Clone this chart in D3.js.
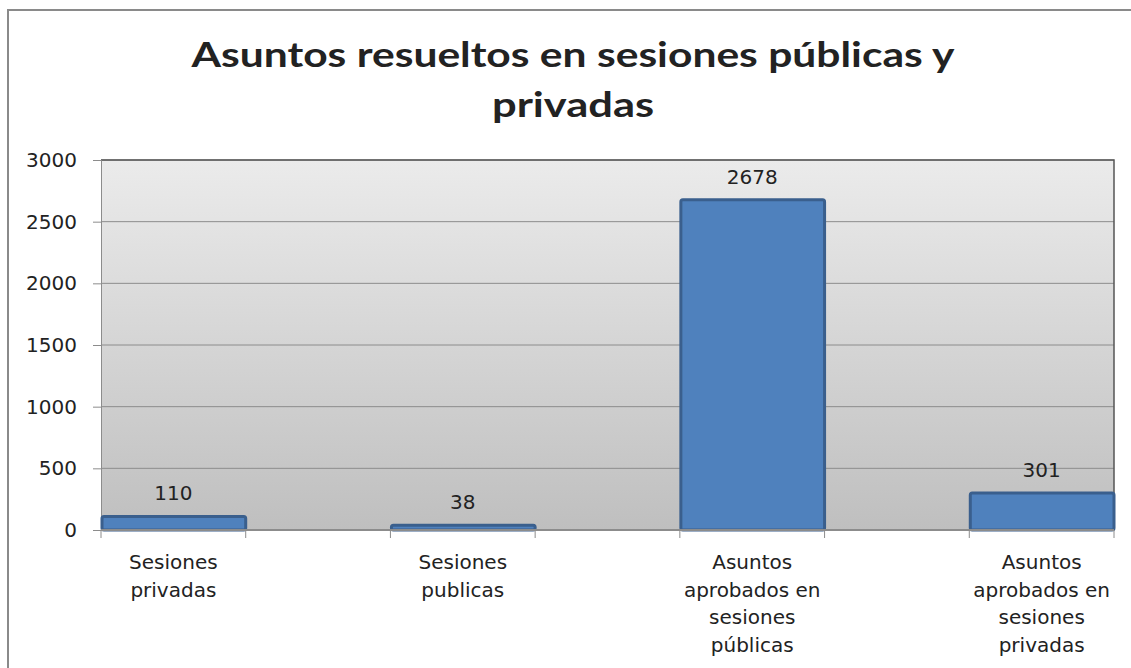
<!DOCTYPE html>
<html>
<head>
<meta charset="utf-8">
<title>Asuntos resueltos</title>
<script src="https://cdn.jsdelivr.net/npm/d3@7"></script>
<style>
  body { margin: 0; background: #fff; }
  svg text { font-family: "DejaVu Sans", Verdana, sans-serif; fill: #222; }
</style>
</head>
<body>
<svg id="chart"></svg>
<script>
// data (the chart has blank categories between bars)
var categories = ["Sesiones privadas", "", "Sesiones publicas", "", "Asuntos aprobados en sesiones públicas", "", "Asuntos aprobados en sesiones privadas"];
var labelLines = [["Sesiones", "privadas"], [], ["Sesiones", "publicas"], [], ["Asuntos", "aprobados en", "sesiones", "públicas"], [], ["Asuntos", "aprobados en", "sesiones", "privadas"]];
var values = [110, null, 38, null, 2678, null, 301];
var yTicks = [0, 500, 1000, 1500, 2000, 2500, 3000];
var titleLines = ["Asuntos resueltos en sesiones públicas y", "privadas"];

var width = 1131, height = 668;
var plot = { left: 101, right: 1114, top: 160, bottom: 530 };

var svg = d3.select("#chart").attr("width", width).attr("height", height);

// outer chart frame (runs off the right and bottom)
svg.append("rect")
    .attr("x", 8).attr("y", 10)
    .attr("width", width + 20).attr("height", height + 20)
    .attr("fill", "#fff")
    .attr("stroke", "#8a8a8a")
    .attr("stroke-width", 2);

// plot background gradient
var defs = svg.append("defs");
var grad = defs.append("linearGradient").attr("id", "bg")
    .attr("x1", 0).attr("y1", 0).attr("x2", 0).attr("y2", 1);
grad.append("stop").attr("offset", "0%").attr("stop-color", "#ebebeb");
grad.append("stop").attr("offset", "100%").attr("stop-color", "#bfbfbf");

var x = d3.scaleBand()
    .domain(d3.range(categories.length))
    .range([plot.left, plot.right])
    .padding(0);

var y = d3.scaleLinear()
    .domain([0, 3000])
    .range([plot.bottom, plot.top]);

svg.append("rect")
    .attr("x", plot.left).attr("y", plot.top)
    .attr("width", plot.right - plot.left)
    .attr("height", plot.bottom - plot.top)
    .attr("fill", "url(#bg)");

// gridlines
svg.append("g").selectAll("line")
    .data(yTicks.filter(function (d) { return d > 0; }))
    .enter().append("line")
    .attr("x1", plot.left).attr("x2", plot.right)
    .attr("y1", function (d) { return y(d); })
    .attr("y2", function (d) { return y(d); })
    .attr("stroke", "#8c8c8c")
    .attr("stroke-width", 1);

// top and right plot border
svg.append("path")
    .attr("d", "M" + plot.left + "," + plot.top + "H" + plot.right + "V" + plot.bottom)
    .attr("fill", "none")
    .attr("stroke", "#555")
    .attr("stroke-width", 1.5);

// y axis
var yAxis = d3.axisLeft(y).tickValues(yTicks).tickFormat(d3.format("d")).tickSize(8).tickPadding(16);
var gy = svg.append("g").attr("transform", "translate(" + plot.left + ",0)").call(yAxis);
gy.select(".domain").attr("stroke", "#8c8c8c");
gy.selectAll(".tick line").attr("stroke", "#8c8c8c");
gy.selectAll(".tick text")
    .style("font-size", "20px")
    .style("font-family", "DejaVu Sans")
    .attr("fill", "#222");

// bars
svg.append("g").selectAll("rect")
    .data(values.map(function (v, i) { return { i: i, v: v }; }).filter(function (d) { return d.v !== null; }))
    .enter().append("rect")
    .attr("x", function (d) { return x(d.i) + 1; })
    .attr("width", x.bandwidth() - 1)
    .attr("y", function (d) { return y(d.v); })
    .attr("height", function (d) { return y(0) - y(d.v); })
    .attr("rx", 2)
    .attr("fill", "#4f81bd")
    .attr("stroke", "#3a5f8d")
    .attr("stroke-width", 3);

// x axis line and ticks
var xTickPos = d3.range(categories.length + 1).map(function (i) { return plot.left + i * x.step(); });
svg.append("line")
    .attr("x1", plot.left).attr("x2", plot.right)
    .attr("y1", plot.bottom).attr("y2", plot.bottom)
    .attr("stroke", "#8c8c8c").attr("stroke-width", 2);
svg.append("g").selectAll("line")
    .data(xTickPos)
    .enter().append("line")
    .attr("x1", function (d) { return d; }).attr("x2", function (d) { return d; })
    .attr("y1", plot.bottom).attr("y2", plot.bottom + 8)
    .attr("stroke", "#8c8c8c");

// category labels
var cat = svg.append("g").selectAll("text")
    .data(labelLines)
    .enter().append("text")
    .attr("text-anchor", "middle")
    .style("font-size", "20px")
    .attr("transform", function (d, i) { return "translate(" + (x(i) + x.bandwidth() / 2) + ",569)"; });
cat.selectAll("tspan")
    .data(function (d) { return d; })
    .enter().append("tspan")
    .attr("x", 0)
    .attr("y", function (d, j) { return j * 27.7; })
    .text(function (d) { return d; });

// value labels
svg.append("g").selectAll("text")
    .data(values.map(function (v, i) { return { i: i, v: v }; }).filter(function (d) { return d.v !== null; }))
    .enter().append("text")
    .attr("text-anchor", "middle")
    .style("font-size", "20px")
    .attr("x", function (d) { return x(d.i) + x.bandwidth() / 2; })
    .attr("y", function (d) { return y(d.v) - 16; })
    .text(function (d) { return d.v; });

// title
svg.append("g").selectAll("text")
    .data(titleLines)
    .enter().append("text")
    .attr("text-anchor", "middle")
    .attr("x", 573)
    .attr("y", function (d, i) { return 67 + i * 50; })
    .attr("textLength", function (d, i) { return i === 0 ? 763 : 162; })
    .attr("lengthAdjust", "spacingAndGlyphs")
    .style("font-family", "Lato, 'Open Sans', sans-serif")
    .style("font-weight", "bold")
    .style("font-size", "35px")
    .attr("fill", "#000")
    .text(function (d) { return d; });
</script>
</body>
</html>
